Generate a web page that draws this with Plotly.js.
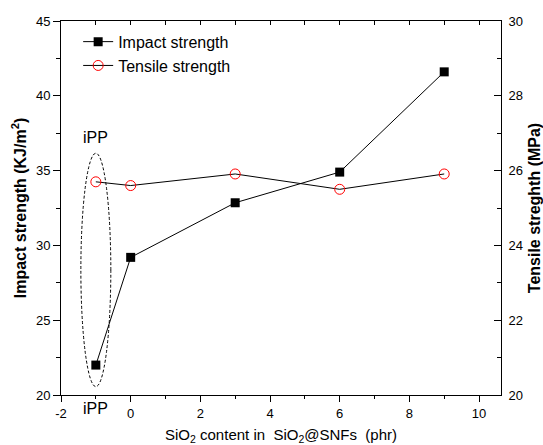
<!DOCTYPE html>
<html>
<head>
<meta charset="utf-8">
<script src="https://cdn.plot.ly/plotly-3.0.1.min.js"></script>
<style>html,body{margin:0;padding:0;background:#fff;}#chart{width:543px;height:445px;}</style>
</head>
<body>
<div id="chart"></div>
<script>
var content = [-1, 0, 3, 6, 9];
var impactStrength = [22.0, 29.2, 32.85, 34.9, 41.6];
var tensileStrength = [25.70, 25.60, 25.91, 25.50, 25.91];
var xTickVals = [-2, 0, 2, 4, 6, 8, 10];
var xTickText = ['-2', '0', '2', '4', '6', '8', '10'];

var font = 'Liberation Sans, Arial, sans-serif';

var traces = [
  {
    x: content, y: impactStrength, name: 'Impact strength',
    type: 'scatter', mode: 'lines+markers',
    line: {color: '#000', width: 1},
    marker: {symbol: 'square', size: 9, color: '#000'},
    xaxis: 'x', yaxis: 'y'
  },
  {
    x: content, y: tensileStrength, name: 'Tensile strength',
    type: 'scatter', mode: 'lines+markers',
    line: {color: '#000', width: 1},
    marker: {symbol: 'circle-open', size: 10, color: '#ff0000', line: {width: 1, color: '#ff0000'}},
    xaxis: 'x', yaxis: 'y2'
  },
  {x: [-2], y: [20], xaxis: 'x2', yaxis: 'y', mode: 'markers', marker: {opacity: 0},
   showlegend: false, hoverinfo: 'skip'}
];

var layout = {
  width: 543, height: 445,
  margin: {l: 61, r: 42, t: 21, b: 50},
  paper_bgcolor: '#fff', plot_bgcolor: '#fff',
  font: {family: font, size: 13, color: '#000'},
  showlegend: true,
  legend: {x: 0.039, y: 0.99, xanchor: 'left', yanchor: 'top', bgcolor: 'rgba(0,0,0,0)',
           font: {size: 16, family: font}, tracegroupgap: 0, itemwidth: 30},
  xaxis: {
    range: [-2, 10.63], showgrid: false, zeroline: false,
    showline: true, linecolor: '#000', linewidth: 1,
    tickmode: 'array', tickvals: xTickVals, ticktext: xTickText,
    ticks: 'outside', ticklen: 6, tickcolor: '#000',
    minor: {dtick: 1, tick0: 0, ticks: 'outside', ticklen: 3, tickcolor: '#000'},
    tickfont: {size: 13},
    title: {text: 'SiO<sub>2</sub> content in  SiO<sub>2</sub>@SNFs  (phr)', font: {size: 15}, standoff: 9}
  },
  xaxis2: {
    overlaying: 'x', side: 'top', range: [-2, 10.63], anchor: 'y',
    showgrid: false, zeroline: false, showline: true, linecolor: '#000', linewidth: 1,
    showticklabels: false, ticks: 'inside', ticklen: 4, tickcolor: '#000', tickwidth: 1,
    tickmode: 'linear', dtick: 1, tick0: 0
  },
  yaxis: {
    range: [20, 45], showgrid: false, zeroline: false,
    showline: true, linecolor: '#000', linewidth: 1,
    dtick: 5, ticks: 'outside', ticklen: 7, tickcolor: '#000',
    minor: {dtick: 2.5, ticks: 'outside', ticklen: 4, tickcolor: '#000'},
    tickfont: {size: 13},
    title: {text: '<b>Impact strength (KJ/m<sup>2</sup>)</b>', font: {size: 16}, standoff: 5}
  },
  yaxis2: {
    range: [20, 30], overlaying: 'y', side: 'right', anchor: 'x', showgrid: false, zeroline: false,
    showline: true, linecolor: '#000', linewidth: 1,
    dtick: 2, ticks: 'inside', ticklen: 7, tickcolor: '#000',
    minor: {dtick: 1, ticks: 'inside', ticklen: 4, tickcolor: '#000'},
    tickfont: {size: 13}, ticklabelstandoff: 4,
    title: {text: '<b>Tensile streghth (MPa)</b>', font: {size: 16}, standoff: 6}
  },
  shapes: [
    {type: 'circle', xref: 'x', yref: 'y', x0: -1.43, x1: -0.57, y0: 20.56, y1: 36.16,
     line: {color: '#000', width: 1, dash: '3px,2px'}}
  ],
  annotations: [
    {x: -1, y: 37.2, xref: 'x', yref: 'y', text: 'iPP', showarrow: false, font: {size: 16}},
    {x: -1, y: 0, xref: 'x', yref: 'paper', yanchor: 'top', yshift: -3, text: 'iPP',
     showarrow: false, font: {size: 16}}
  ]
};

Plotly.newPlot('chart', traces, layout, {staticPlot: true});
</script>
</body>
</html>
